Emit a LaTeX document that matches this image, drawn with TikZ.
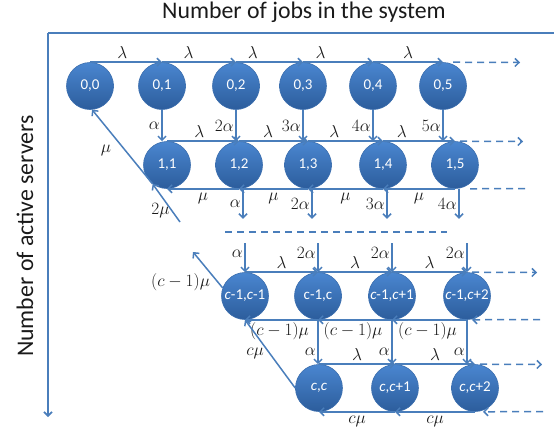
\documentclass[tikz,border=0pt]{standalone}
\usepackage{fontspec}
\setmainfont{Carlito}
\usetikzlibrary{arrows.meta,positioning,calc}
\definecolor{ink}{HTML}{1A1A1A}
\definecolor{flowline}{HTML}{4A7EBB}
\definecolor{statetop}{HTML}{4A86D0}
\definecolor{statebot}{HTML}{2C5D9C}
\definecolor{stateline}{HTML}{3B6EAE}
\tikzset{
  state/.style={circle, minimum size=47pt, inner sep=0pt, top color=statetop, bottom color=statebot,
                draw=stateline, line width=0.6pt, text=white, font=\fontsize{15}{17}\selectfont},
  flow/.style={draw=flowline, line width=1.5pt, -{Straight Barb[length=4pt,width=8pt]}},
  flowdash/.style={flow, dash pattern=on 7pt off 5pt},
  dashrule/.style={draw=flowline, line width=1.5pt, dash pattern=on 7pt off 5pt},
  lab/.style={text=ink, inner sep=1.5pt, font=\fontsize{16}{18}\selectfont},
  axislabel/.style={text=ink, font=\fontsize{23.8}{26}\selectfont},
}
\newcommand{\ci}{\textit{c}}

\begin{document}
\begin{tikzpicture}[x=1pt,y=-1pt]
\useasboundingbox (0,0) rectangle (554,437);

% axes
\coordinate (ax0) at (48,33);
\coordinate (axr) at (554,33);
\coordinate (axd) at (48,417);
\draw[flowline, line width=1.6pt] (axr) -- (ax0);
\draw[flow, line width=1.6pt] (ax0) -- (axd);
\node[axislabel, anchor=base] (title) at (304,18.5) {Number of jobs in the system};
\node[axislabel, anchor=base, rotate=90] (ylab) at (33,236) {Number of active servers};

% states
\foreach \j/\x in {0/90,1/162,2/236,3/303,4/373,5/443}
  \node[state] (n0\j) at (\x,86) {0,\j};
\foreach \j/\x in {1/167,2/239,3/308,4/383,5/455}
  \node[state] (n1\j) at (\x,165) {1,\j};
\node[state] (m1) at (245,296) {\ci-1,\ci-1};
\node[state] (m2) at (318,296) {c-1,c};
\node[state] (m3) at (392,296) {\ci-1,\ci+1};
\node[state] (m4) at (467,296) {\ci-1,\ci+2};
\node[state] (k1) at (319,388) {\ci,\ci};
\node[state] (k2) at (395,388) {\ci,\ci+1};
\node[state] (k3) at (475,388) {\ci,\ci+2};

% free ends
\coordinate (r0) at (520,62.5);
\coordinate (r1) at (523,141.5);
\coordinate (b1) at (525,188.5);
\coordinate (q) at (180,222);
\coordinate (h1) at (225,232);
\coordinate (h2) at (447,232);
\coordinate (u) at (193,252);
\coordinate (r2) at (537,272.5);
\coordinate (b2) at (540,319.5);
\coordinate (r3) at (542,364.5);
\coordinate (b3) at (543,411.5);

% row 0
\foreach \a/\b/\p in {0/1/0.45,1/2/0.36,2/3/0.25,3/4/0.25,4/5/0.5}
  \draw[flow] (n0\a.north) -- (n0\b.north) node[lab, above=1pt, pos=\p] {$\lambda$};
\draw[flowdash] ([xshift=10pt]n05.north) -- (r0);
\foreach \j/\m in {1/\alpha,2/2\alpha,3/3\alpha,4/4\alpha,5/5\alpha}
  \draw[flow] (n0\j.south) -- (n0\j.south |- n1\j.north) node[lab, left, midway] {$\m$};

% row 1
\foreach \a/\b/\p in {1/2/0.45,2/3/0.42,3/4/0.35,4/5/0.26}
  \draw[flow] (n1\a.north) -- (n1\b.north) node[lab, above=1pt, pos=\p] {$\lambda$};
\draw[flowdash] ([xshift=5pt]n15.north) -- (r1);
\foreach \a/\b in {2/1,3/2,4/3,5/4}
  \draw[flow] (n1\a.south) -- (n1\b.south) node[lab, below=2pt, midway] {$\mu$};
\draw[dashrule] (b1) -- ([xshift=12pt]n15.south);
\foreach \j/\m in {2/\alpha,3/2\alpha,4/3\alpha,5/4\alpha} {
  \path ([xshift=4pt]n1\j.south) ++(0,30) coordinate (o\j);
  \draw[flow] ([xshift=4pt]n1\j.south) -- (o\j) node[lab, left, midway] {$\m$};
}
\draw[flow] (q) -- (n11.233) node[lab, left, pos=0.3] {$2\mu$};
\draw[flow] (n11.233) -- (n00.-85) node[lab, left=12pt, pos=0.45] {$\mu$};

% row c-1
\draw[dashrule] (h1) -- (h2);
\foreach \i/\m in {1/\alpha,2/2\alpha,3/2\alpha,4/2\alpha} {
  \coordinate (t\i) at ($(m\i.north)+(0,-29)$);
  \draw[flow] (t\i) -- (m\i.north) node[lab, left, pos=0.35] {$\m$};
}
\foreach \a/\b in {1/2,2/3,3/4}
  \draw[flow] (m\a.north) -- (m\b.north) node[lab, above=1pt, midway] {$\lambda$};
\draw[flowdash] ([xshift=5pt]m4.north) -- (r2);
\draw[flow] (m1.160) -- (u) node[lab, left=6pt, pos=0.15] {$(c-1)\mu$};
\foreach \a/\b in {2/1,3/2,4/3}
  \draw[flow] (m\a.south) -- (m\b.south) node[lab, below=0pt, midway, xshift=-2pt] {$(c-1)\mu$};
\draw[flowdash] (b2) -- ([xshift=5pt]m4.south);
\foreach \a/\b in {2/1,3/2,4/3}
  \draw[flow] (m\a.south) -- (m\a.south |- k\b.north) node[lab, left, pos=0.72] {$\alpha$};

% row c
\draw[flow] (k1.west) -- (m1.south) node[lab, left=4pt, midway] {$c\mu$};
\foreach \a/\b in {1/2,2/3}
  \draw[flow] (k\a.north) -- (k\b.north) node[lab, above=1pt, midway] {$\lambda$};
\draw[flowdash] ([xshift=5pt]k3.north) -- (r3);
\foreach \a/\b in {2/1,3/2}
  \draw[flow] (k\a.south) -- (k\b.south) node[lab, below=2pt, midway] {$c\mu$};
\draw[flowdash] (b3) -- ([xshift=8pt]k3.south);

\end{tikzpicture}
\end{document}
